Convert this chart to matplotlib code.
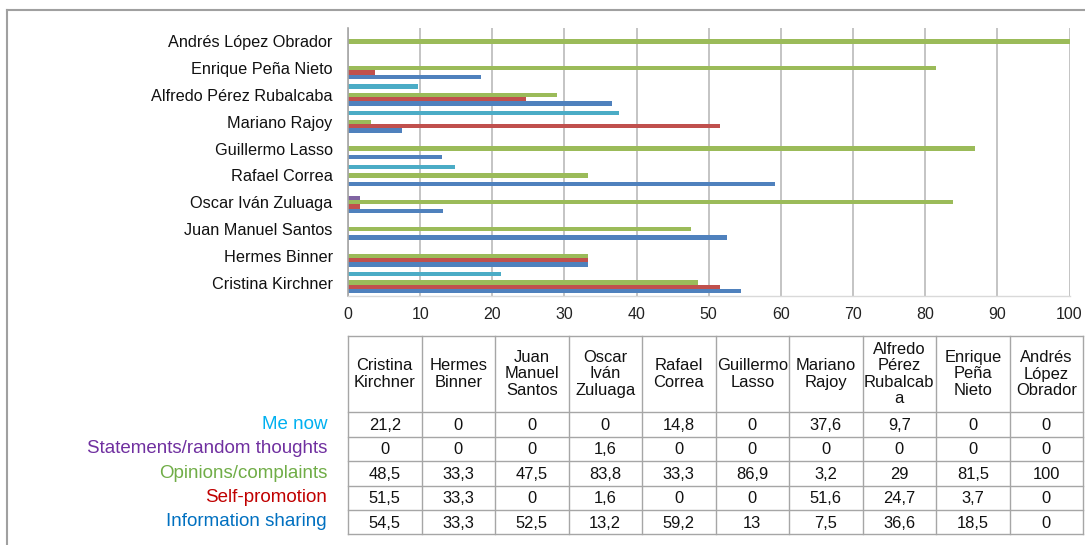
import matplotlib
matplotlib.use("Agg")
import matplotlib.pyplot as plt
import matplotlib.transforms as mtransforms
from matplotlib.lines import Line2D
import numpy as np

plt.rcParams['font.family'] = ['Liberation Sans', 'DejaVu Sans']

# ---- data (bottom-to-top order of the chart = left-to-right order of table) ----
politicians = ["Cristina Kirchner", "Hermes Binner", "Juan Manuel Santos",
               "Oscar Iván Zuluaga", "Rafael Correa", "Guillermo Lasso",
               "Mariano Rajoy", "Alfredo Pérez Rubalcaba", "Enrique Peña Nieto",
               "Andrés López Obrador"]
table_headers = ["Cristina\nKirchner", "Hermes\nBinner", "Juan\nManuel\nSantos",
                 "Oscar\nIván\nZuluaga", "Rafael\nCorrea", "Guillermo\nLasso",
                 "Mariano\nRajoy", "Alfredo\nPérez\nRubalcab\na", "Enrique\nPeña\nNieto",
                 "Andrés\nLópez\nObrador"]

me_now = [21.2, 0, 0, 0, 14.8, 0, 37.6, 9.7, 0, 0]
statements = [0, 0, 0, 1.6, 0, 0, 0, 0, 0, 0]
opinions = [48.5, 33.3, 47.5, 83.8, 33.3, 86.9, 3.2, 29, 81.5, 100]
self_promotion = [51.5, 33.3, 0, 1.6, 0, 0, 51.6, 24.7, 3.7, 0]
info_sharing = [54.5, 33.3, 52.5, 13.2, 59.2, 13, 7.5, 36.6, 18.5, 0]

series_names = ["Information sharing", "Self-promotion", "Opinions/complaints",
                "Statements/random thoughts", "Me now"]
series_values = [info_sharing, self_promotion, opinions, statements, me_now]
bar_colors = ["#4F81BD", "#C0504D", "#9BBB59", "#8064A2", "#4BACC6"]
label_colors = ["#0070C0", "#C00000", "#70AD47", "#7030A0", "#00B0F0"]
xticks = list(range(0, 101, 10))

# ---- figure ----
W, H = 1085, 545
fig = plt.figure(figsize=(W / 100, H / 100), dpi=100)

def rect(x0, y0, x1, y1):
    return [x0 / W, 1 - y1 / H, (x1 - x0) / W, (y1 - y0) / H]

ax = fig.add_axes(rect(348, 28, 1069.5, 296))
y = np.arange(len(politicians))
h = 0.16
for i, (vals, col) in enumerate(zip(series_values, bar_colors)):
    ax.barh(y + (i - 2) * h, vals, height=h, color=col, edgecolor='none')

ax.set_xlim(0, 100)
ax.set_ylim(-0.5, len(politicians) - 0.5)
ax.set_xticks(xticks)
ax.set_xticklabels([str(t) for t in xticks], fontsize=11.5, color='#222222')
ax.set_yticks(y)
ax.set_yticklabels(politicians, fontsize=11.7, color='#111111')
ax.tick_params(axis='x', length=0, pad=8)
ax.tick_params(axis='y', length=0, pad=11)
ax.grid(axis='x', color='#BFBFBF', lw=1.3)
ax.set_axisbelow(True)
for s in ['top', 'right']:
    ax.spines[s].set_visible(False)
ax.spines['left'].set_color('#A6A6A6')
ax.spines['left'].set_linewidth(1.2)
ax.spines['bottom'].set_color('#D9D9D9')
ax.spines['bottom'].set_linewidth(1.0)

# ---- data table ----
tab = fig.add_axes(rect(348, 336, 1083, 534))
n = len(politicians)
row_edges = [0, 76, 100.5, 125, 149.5, 174, 198]
tab.set_xlim(0, n)
tab.set_ylim(row_edges[-1], row_edges[0])
tab.axis('off')
lc = '#A6A6A6'
for e in row_edges:
    tab.plot([0, n], [e, e], color=lc, lw=1.0, clip_on=False)
for c in range(n + 1):
    tab.plot([c, c], [0, row_edges[-1]], color=lc, lw=1.0, clip_on=False)

for c, hdr in enumerate(table_headers):
    tab.text(c + 0.5, (row_edges[0] + row_edges[1]) / 2, hdr, ha='center', va='center',
             fontsize=11.9, color='#111111', linespacing=1.1)

def fmt(v):
    return f"{v:g}".replace('.', ',')

trans = mtransforms.blended_transform_factory(tab.transAxes, tab.transData)
table_rows = list(reversed(range(len(series_names))))  # Me now first
for r, si in enumerate(table_rows):
    yc = (row_edges[r + 1] + row_edges[r + 2]) / 2
    for c, v in enumerate(series_values[si]):
        tab.text(c + 0.5, yc + 1, fmt(v), ha='center', va='center',
                 fontsize=11.9, color='#111111')
    tab.text(-21 / 735, yc, series_names[si], transform=trans, ha='right',
             va='center', fontsize=13.5, color=label_colors[si])

# ---- outer frame ----
fc = '#A0A0A0'
fig.add_artist(Line2D([7 / W, 1], [1 - 10 / H, 1 - 10 / H], transform=fig.transFigure,
                      color=fc, lw=1.5))
fig.add_artist(Line2D([7 / W, 7 / W], [0, 1 - 10 / H], transform=fig.transFigure,
                      color=fc, lw=1.5))

fig.savefig("out.png", dpi=100)
